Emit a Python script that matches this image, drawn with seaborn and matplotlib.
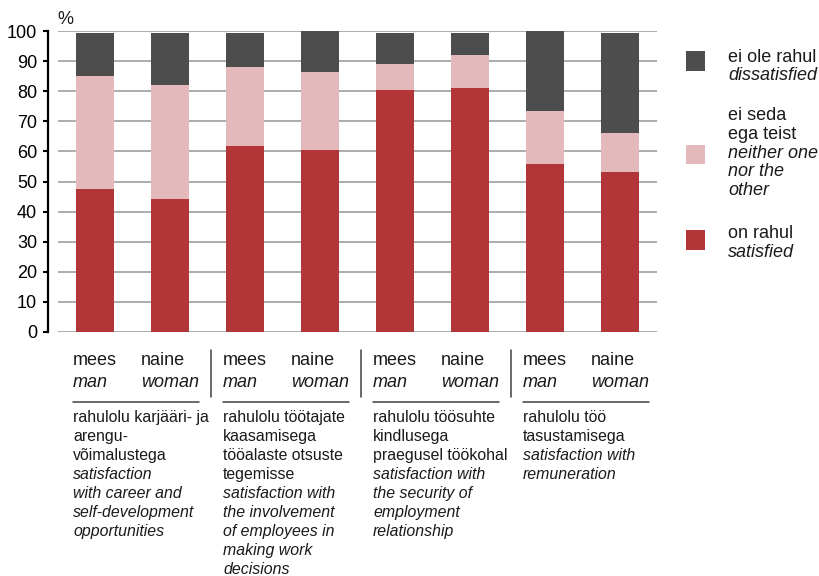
import matplotlib
matplotlib.use('Agg')
import matplotlib.pyplot as plt
import seaborn as sns
import pandas as pd
import numpy as np
from matplotlib.lines import Line2D
from matplotlib.patches import Rectangle

# ---------------- data ----------------
bar_keys = ["g1_m", "g1_w", "g2_m", "g2_w", "g3_m", "g3_w", "g4_m", "g4_w"]
gender_et = ["mees", "naine"] * 4
gender_en = ["man", "woman"] * 4
satisfied = [47.6, 44.2, 61.9, 60.6, 80.6, 81.2, 55.9, 53.2]
neither = [37.6, 38.0, 26.3, 26.0, 8.6, 11.0, 17.7, 13.0]
dissatisfied = [14.4, 17.4, 11.4, 13.4, 10.4, 7.4, 26.4, 33.4]

group_et = [
    ["rahulolu karjääri- ja", "arengu-", "võimalustega"],
    ["rahulolu töötajate", "kaasamisega", "tööalaste otsuste", "tegemisse"],
    ["rahulolu töösuhte", "kindlusega", "praegusel töökohal"],
    ["rahulolu töö", "tasustamisega"],
]
group_en = [
    ["satisfaction", "with career and", "self-development", "opportunities"],
    ["satisfaction with", "the involvement", "of employees in", "making work", "decisions"],
    ["satisfaction with", "the security of", "employment", "relationship"],
    ["satisfaction with", "remuneration"],
]
legend_et = [["ei ole rahul"], ["ei seda", "ega teist"], ["on rahul"]]
legend_en = [["dissatisfied"], ["neither one", "nor the", "other"], ["satisfied"]]
yticks = [0, 10, 20, 30, 40, 50, 60, 70, 80, 90, 100]

c_sat = "#b23538"
c_nei = "#e4b9bb"
c_dis = "#4d4d4d"
c_txt = "#1a1a1a"

# ---------------- figure ----------------
sns.set_theme(style="white")
plt.rcParams['font.family'] = ['Liberation Sans', 'DejaVu Sans']

W, H = 820, 576
fig = plt.figure(figsize=(W / 100, H / 100), dpi=100)
ax = fig.add_axes([57.5 / W, 1 - 331.7 / H, 600 / W, 300.4 / H])

df = pd.DataFrame({
    "bar": bar_keys,
    "total": np.array(satisfied) + np.array(neither) + np.array(dissatisfied),
    "mid": np.array(satisfied) + np.array(neither),
    "sat": satisfied,
})
for col, colr in [("total", c_dis), ("mid", c_nei), ("sat", c_sat)]:
    sns.barplot(data=df, x="bar", y=col, order=bar_keys, color=colr,
                width=0.5, saturation=1, ax=ax, linewidth=0)

ax.set_xlim(-0.5, 7.5)
ax.set_ylim(0, 100)
ax.set_yticks(yticks)
ax.set_yticklabels([str(v) for v in yticks])
ax.set_xticks([])
ax.set_xlabel("")
ax.set_ylabel("")
ax.set_axisbelow(True)
ax.yaxis.grid(True, color="#a6a6a6", lw=1.3)
for s in ["top", "right", "bottom"]:
    ax.spines[s].set_visible(False)
ax.spines["left"].set_position(("outward", 6.8))
ax.spines["left"].set_linewidth(1.6)
ax.spines["left"].set_color("black")
ax.spines["left"].set_bounds(0, 100)
ax.tick_params(axis="y", left=True, length=3.6, width=1.5, pad=4.3,
               labelsize=13, colors="black")

renderer = fig.canvas.get_renderer()


def fx(x):
    return x / W


def fy(y):
    return 1 - y / H


def tw(t):
    return t.get_window_extent(renderer=renderer).width


fig.text(fx(57), fy(23.5), "%", fontsize=13, ha="left", va="baseline", color=c_txt)

# category labels
lefts, rights = [], []
for i in range(len(bar_keys)):
    xc = ax.transData.transform((i, 0))[0]
    t1 = fig.text(0, 0, gender_et[i], fontsize=13, ha="left", va="baseline", color=c_txt)
    t2 = fig.text(0, 0, gender_en[i], fontsize=13, style="italic", ha="left",
                  va="baseline", color=c_txt)
    w = max(tw(t1), tw(t2))
    left = xc - w / 2
    t1.set_position((fx(left), fy(365)))
    t2.set_position((fx(left), fy(387)))
    lefts.append(left)
    rights.append(left + w)

# underlines, separators and group descriptions
for g in range(4):
    l, r = lefts[2 * g], rights[2 * g + 1]
    fig.add_artist(Line2D([fx(l), fx(r)], [fy(402), fy(402)], color="#404040", lw=1.1))
    if g < 3:
        xs = (r + lefts[2 * g + 2]) / 2
        fig.add_artist(Line2D([fx(xs), fx(xs)], [fy(350), fy(397)], color="#404040", lw=1.1))
    k = 0
    for line in group_et[g]:
        fig.text(fx(l), fy(422 + 19 * k), line, fontsize=11.4, ha="left",
                 va="baseline", color=c_txt)
        k += 1
    for line in group_en[g]:
        fig.text(fx(l), fy(422 + 19 * k), line, fontsize=11.4, style="italic",
                 ha="left", va="baseline", color=c_txt)
        k += 1

# legend
leg_colors = [c_dis, c_nei, c_sat]
leg_first_base = [61.5, 119.8, 238.3]
leg_patch_center = [61, 154, 240]
for j in range(3):
    pc = leg_patch_center[j]
    fig.add_artist(Rectangle((fx(686), fy(pc + 9.5)), 19.5 / W, 19 / H,
                             transform=fig.transFigure, color=leg_colors[j], lw=0))
    k = 0
    for line in legend_et[j]:
        fig.text(fx(728), fy(leg_first_base[j] + 18.9 * k), line, fontsize=13,
                 ha="left", va="baseline", color=c_txt)
        k += 1
    for line in legend_en[j]:
        fig.text(fx(728), fy(leg_first_base[j] + 18.9 * k), line, fontsize=13,
                 style="italic", ha="left", va="baseline", color=c_txt)
        k += 1

fig.savefig("out.png", dpi=100)
